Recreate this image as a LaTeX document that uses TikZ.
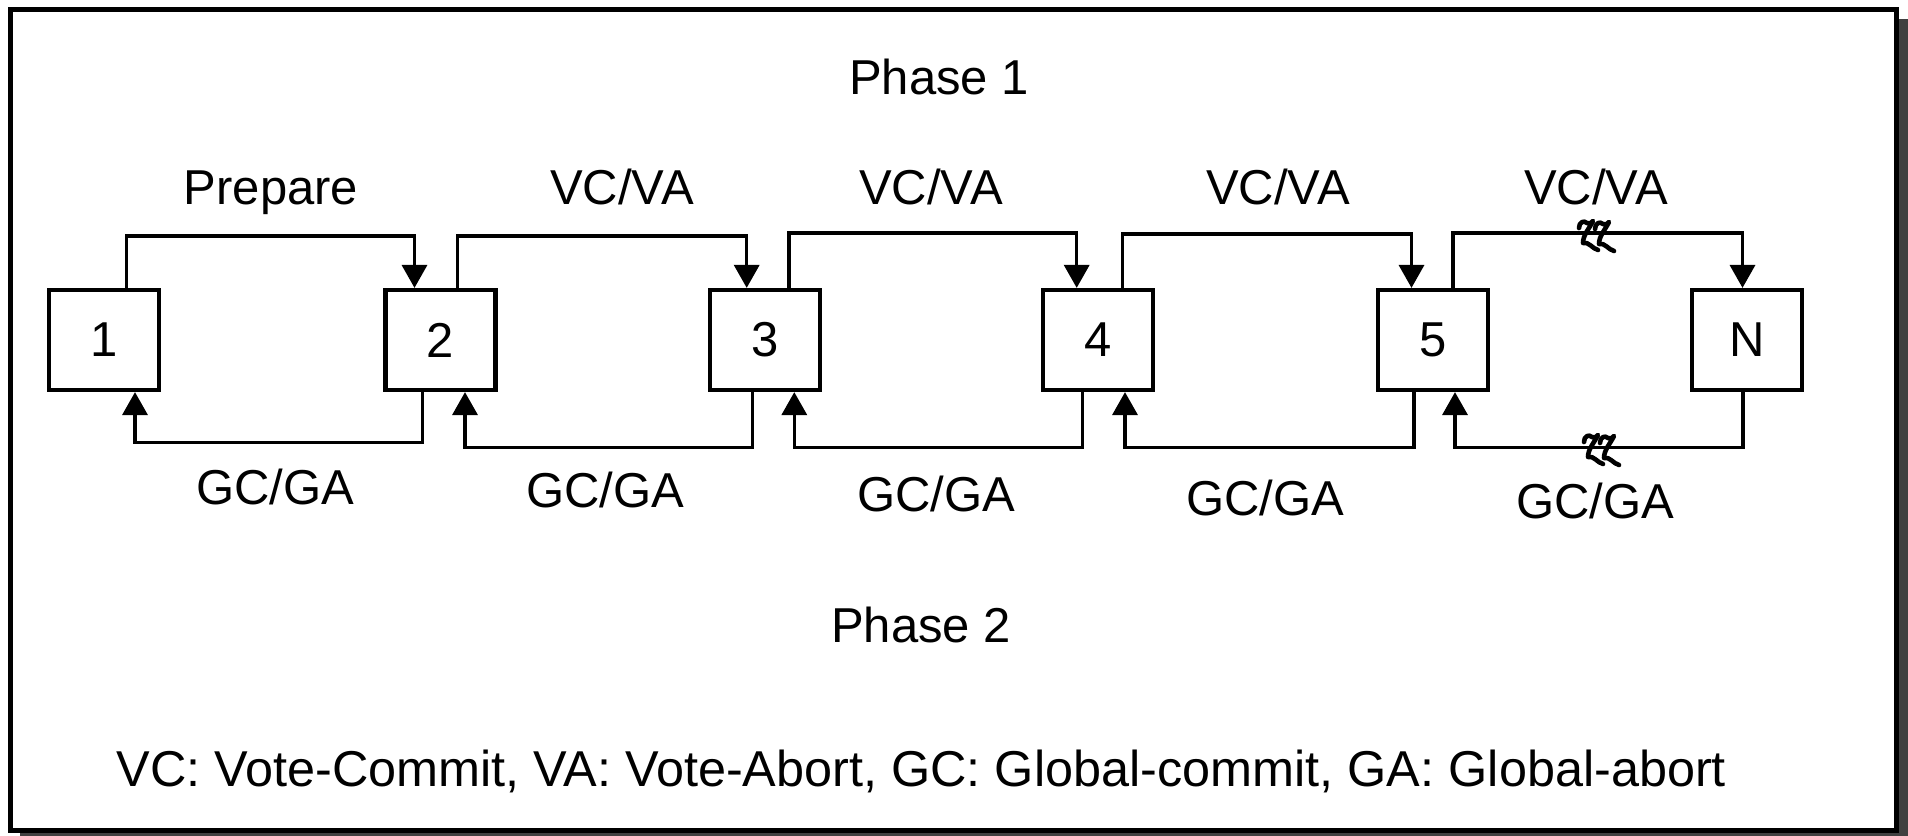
\documentclass[tikz,border=0pt]{standalone}
\usepackage{fontspec}
\setmainfont{Liberation Sans}
\usetikzlibrary{arrows.meta,calc}
\begin{document}
\begin{tikzpicture}[x=0.5pt,y=-0.5pt,
  every node/.style={font=\fontsize{24.5pt}{29pt}\selectfont},
  stagebox/.style={draw,line width=2.1pt,minimum width=55pt,minimum height=50pt,inner sep=0pt,fill=white},
  link/.style={line width=1.75pt,-{Triangle[width=12.5pt,length=11.5pt]}},
  lbl/.style={anchor=base,inner sep=0pt},
  squig/.style={line width=2.3pt,line cap=round,line join=round}]
\useasboundingbox (0,0) rectangle (1908,836);
% frame with drop shadow
\fill[black!75] (20,19) rectangle (1908,836);
\draw[line width=2.5pt,fill=white] (10.5,9.8) rectangle (1896.8,830.2);

% participants
\node[stagebox] (n1) at (104,340) {1};
\node[stagebox] (n2) at (440.5,340) {2};
\node[stagebox] (n3) at (765,340) {3};
\node[stagebox] (n4) at (1098,340) {4};
\node[stagebox] (n5) at (1433,340) {5};
\node[stagebox] (nN) at (1747,340) {N};

% phase 1 messages (forward)
\draw[link] ($(n1.north)+(22.7,0)$) -- ++(0,-52) -| ($(n2.north)+(-26,0)$);
\draw[link] ($(n2.north)+(17,0)$) -- ++(0,-52) -| ($(n3.north)+(-18.3,0)$);
\draw[link] ($(n3.north)+(24,0)$) -- ++(0,-55) -| ($(n4.north)+(-21.3,0)$);
\draw[link] ($(n4.north)+(24.7,0)$) -- ++(0,-54) -| ($(n5.north)+(-21.5,0)$);
\draw[link] ($(n5.north)+(20,0)$) -- ++(0,-55) -| ($(nN.north)+(-4.5,0)$);

% phase 2 messages (backward)
\draw[link] ($(n2.south)+(-18,0)$) -- ++(0,50.3) -| ($(n1.south)+(31,0)$);
\draw[link] ($(n3.south)+(-12.3,0)$) -- ++(0,55.3) -| ($(n2.south)+(24.5,0)$);
\draw[link] ($(n4.south)+(-15.3,0)$) -- ++(0,55.3) -| ($(n3.south)+(29.3,0)$);
\draw[link] ($(n5.south)+(-19,0)$) -- ++(0,55.3) -| ($(n4.south)+(27,0)$);
\draw[link] ($(nN.south)+(-4,0)$) -- ++(0,55.3) -| ($(n5.south)+(22,0)$);

% break marks on the 5--N links
\foreach \bx/\by in {1579/219, 1595/220, 1584/433, 1600/434}{
  \begin{scope}[shift={(\bx,\by)}]
    \draw[squig] (0,9) .. controls (0,3) and (5,1) .. (8,4)
      .. controls (10,6) and (12,4) .. (14,2)
      .. controls (10,10) and (4,16) .. (4,24)
      .. controls (9,22) and (14,30) .. (19,31);
  \end{scope}
}

% labels
\node[lbl] (ph1) at (939,94.5) {Phase 1};
\node[lbl] (lp) at (271,204) {Prepare};
\node[lbl] (l23) at (622,204) {VC/VA};
\node[lbl] (l34) at (931,204) {VC/VA};
\node[lbl] (l45) at (1278,204) {VC/VA};
\node[lbl] (l5N) at (1596,204) {VC/VA};
\node[lbl] (g21) at (275,504.5) {GC/GA};
\node[lbl] (g32) at (605,507.5) {GC/GA};
\node[lbl] (g43) at (936,511.5) {GC/GA};
\node[lbl] (g54) at (1265,515.5) {GC/GA};
\node[lbl] (gN5) at (1595,518.5) {GC/GA};
\node[lbl] (ph2) at (921,642) {Phase 2};
\node[lbl,anchor=base west,font=\fontsize{25.2pt}{30pt}\selectfont] (legend) at (116,786) {VC: Vote-Commit, VA: Vote-Abort, GC: Global-commit, GA: Global-abort};
\end{tikzpicture}
\end{document}
